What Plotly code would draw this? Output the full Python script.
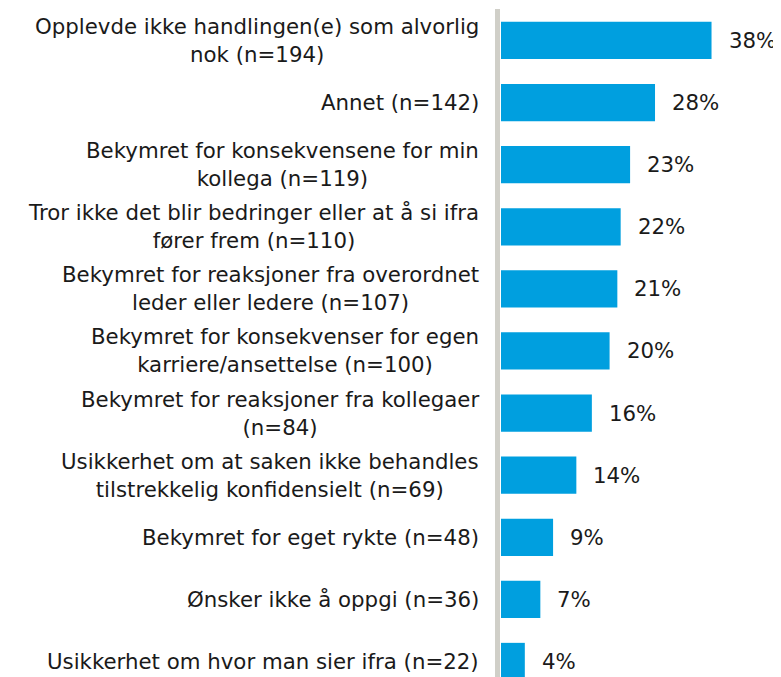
import plotly.graph_objects as go

categories = [
    "Opplevde ikke handlingen(e) som alvorlig<br>nok (n=194)",
    "Annet (n=142)",
    "Bekymret for konsekvensene for min<br>kollega (n=119)",
    "Tror ikke det blir bedringer eller at å si ifra<br>fører frem (n=110)",
    "Bekymret for reaksjoner fra overordnet<br>leder eller ledere (n=107)",
    "Bekymret for konsekvenser for egen<br>karriere/ansettelse (n=100)",
    "Bekymret for reaksjoner fra kollegaer<br>(n=84)",
    "Usikkerhet om at saken ikke behandles<br>tilstrekkelig konfidensielt (n=69)",
    "Bekymret for eget rykte (n=48)",
    "Ønsker ikke å oppgi (n=36)",
    "Usikkerhet om hvor man sier ifra (n=22)",
]
shares = [38.0, 27.8, 23.3, 21.6, 21.0, 19.6, 16.4, 13.6, 9.4, 7.1, 4.3]
value_labels = ["38%", "28%", "23%", "22%", "21%", "20%", "16%", "14%", "9%", "7%", "4%"]

positions = list(range(len(categories)))

FONT = "DejaVu Sans, Verdana, sans-serif"
BLUE = "#009FDF"
FS = 21.3

W, H = 773, 669   # page body adds an 8px margin
ML = 493
PW = W - ML

fig = go.Figure()
fig.add_trace(go.Bar(
    x=shares,
    y=positions,
    orientation="h",
    width=0.6,
    marker=dict(color=BLUE, line=dict(width=0)),
    hoverinfo="skip",
))

annotations = []
for pos, cat, val, lab in zip(positions, categories, shares, value_labels):
    annotations.append(dict(
        x=0, y=pos, xref="x", yref="y",
        text=cat, showarrow=False,
        xanchor="right", yanchor="middle", align="center",
        xshift=-20,
        font=dict(family=FONT, size=FS, color="#1a1a1a"),
    ))
    annotations.append(dict(
        x=val, y=pos, xref="x", yref="y",
        text=lab, showarrow=False,
        xanchor="left", yanchor="middle",
        xshift=15,
        font=dict(family=FONT, size=FS, color="#1a1a1a"),
    ))

fig.update_layout(
    width=W, height=H,
    margin=dict(l=ML, r=0, t=0, b=0),
    paper_bgcolor="white", plot_bgcolor="white",
    showlegend=False,
    xaxis=dict(range=[0, 50.54], visible=False, fixedrange=True),
    yaxis=dict(range=[10.25, -0.523], visible=False, fixedrange=True),
    annotations=annotations,
    shapes=[dict(
        type="line", xref="paper", yref="paper",
        x0=-3.5 / PW, x1=-3.5 / PW, y0=1 - 1 / H, y1=-0.01,
        line=dict(color="#D0CFC8", width=5),
        layer="below",
    )],
)

fig.write_html("out.html")
